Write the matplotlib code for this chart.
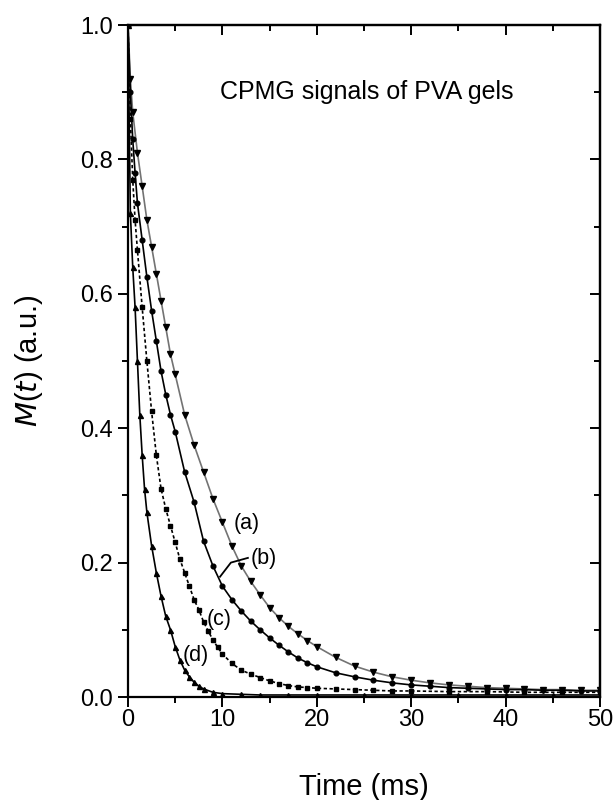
import matplotlib
matplotlib.use("Agg")
import matplotlib.pyplot as plt
from matplotlib.ticker import MultipleLocator

plt.rcParams['font.family'] = ['Liberation Sans', 'DejaVu Sans']

# ---- data ----
t_a = [0, 0.25, 0.5, 1, 1.5, 2, 2.5, 3, 3.5, 4, 4.5, 5, 6, 7, 8, 9, 10, 11, 12, 13, 14,
       15, 16, 17, 18, 19, 20, 22, 24, 26, 28, 30, 32, 34, 36, 38, 40, 42, 44, 46, 48, 50]
m_a = [1.0, 0.92, 0.87, 0.81, 0.76, 0.71, 0.67, 0.63, 0.59, 0.55, 0.51, 0.48, 0.42, 0.375,
       0.335, 0.295, 0.26, 0.225, 0.195, 0.172, 0.152, 0.133, 0.118, 0.105, 0.094, 0.084,
       0.075, 0.059, 0.046, 0.037, 0.030, 0.025, 0.021, 0.018, 0.016, 0.014, 0.013, 0.012,
       0.011, 0.011, 0.010, 0.010]

t_b = [0, 0.25, 0.5, 0.75, 1, 1.5, 2, 2.5, 3, 3.5, 4, 4.5, 5, 6, 7, 8, 9, 10, 11, 12, 13,
       14, 15, 16, 17, 18, 19, 20, 22, 24, 26, 28, 30, 32, 34, 36, 38, 40, 42, 44, 46, 48, 50]
m_b = [1.0, 0.90, 0.83, 0.78, 0.735, 0.68, 0.625, 0.575, 0.53, 0.485, 0.45, 0.42, 0.395,
       0.335, 0.29, 0.232, 0.195, 0.165, 0.145, 0.128, 0.113, 0.100, 0.088, 0.077, 0.067,
       0.058, 0.051, 0.045, 0.036, 0.030, 0.025, 0.021, 0.018, 0.016, 0.014, 0.013, 0.012,
       0.011, 0.011, 0.010, 0.010, 0.009, 0.009]

t_c = [0, 0.25, 0.5, 0.75, 1, 1.5, 2, 2.5, 3, 3.5, 4, 4.5, 5, 5.5, 6, 6.5, 7, 7.5, 8, 8.5,
       9, 9.5, 10, 11, 12, 13, 14, 15, 16, 17, 18, 19, 20, 22, 24, 26, 28, 30, 34, 38, 42,
       46, 50]
m_c = [1.0, 0.86, 0.77, 0.71, 0.665, 0.58, 0.50, 0.425, 0.36, 0.31, 0.28, 0.255, 0.23,
       0.205, 0.185, 0.165, 0.145, 0.13, 0.112, 0.098, 0.085, 0.074, 0.064, 0.050, 0.040,
       0.034, 0.029, 0.024, 0.020, 0.017, 0.015, 0.014, 0.013, 0.012, 0.011, 0.010, 0.009,
       0.009, 0.008, 0.008, 0.007, 0.007, 0.007]

t_d = [0, 0.25, 0.5, 0.75, 1, 1.25, 1.5, 1.75, 2, 2.5, 3, 3.5, 4, 4.5, 5, 5.5, 6, 6.5, 7,
       7.5, 8, 9, 10, 12, 14, 17, 20, 25, 30, 35, 40, 45, 50]
m_d = [1.0, 0.72, 0.64, 0.58, 0.50, 0.42, 0.36, 0.31, 0.275, 0.225, 0.185, 0.15, 0.12,
       0.10, 0.075, 0.055, 0.04, 0.03, 0.022, 0.016, 0.012, 0.007, 0.005, 0.004, 0.003,
       0.003, 0.003, 0.003, 0.003, 0.003, 0.003, 0.003, 0.003]

labels = ['(a)', '(b)', '(c)', '(d)']
label_pos = [(12.6, 0.258), (14.4, 0.206), (9.65, 0.115), (7.2, 0.062)]
leader_t = [12.7, 10.9, 9.75]
leader_m = [0.207, 0.200, 0.179]

title_text = 'CPMG signals of PVA gels'

# ---- figure ----
fig = plt.figure(figsize=(6.16, 8.0), dpi=100)
ax = fig.add_axes([128/616, 103/800, 472/616, 672/800])

ax.plot(t_a, m_a, color='0.45', lw=1.2, marker='v', ms=4.8, mfc='black', mec='black', zorder=3)
ax.plot(t_b, m_b, color='black', lw=1.2, marker='o', ms=3.4, mfc='black', mec='black', zorder=3)
ax.plot(t_c, m_c, color='black', lw=1.2, ls=(0, (2, 1.5)), marker='s', ms=3.0,
        mfc='black', mec='black', zorder=3)
ax.plot(t_d, m_d, color='black', lw=1.2, marker='^', ms=3.6, mfc='black', mec='black', zorder=3)

for lab, (x, y) in zip(labels, label_pos):
    ax.text(x, y, lab, fontsize=15.5, ha='center', va='center')
ax.plot(leader_t, leader_m, color='black', lw=1.3, zorder=4)

ax.text(25.3, 0.90, title_text, fontsize=18, ha='center', va='center')

ax.set_xlim(0, 50)
ax.set_ylim(0, 1.0)
ax.xaxis.set_minor_locator(MultipleLocator(5))
ax.yaxis.set_minor_locator(MultipleLocator(0.1))
ax.set_xticks([0, 10, 20, 30, 40, 50])
ax.set_xticklabels(['0', '10', '20', '30', '40', '50'])
ax.set_yticks([0.0, 0.2, 0.4, 0.6, 0.8, 1.0])
ax.set_yticklabels(['0.0', '0.2', '0.4', '0.6', '0.8', '1.0'])

ax.tick_params(which='both', direction='out', width=1.4, labelsize=17,
               top=False, right=False)
ax.tick_params(which='major', length=7, pad=4)
ax.tick_params(which='minor', length=4)
ax.tick_params(axis='x', which='major', pad=2)

# inward ticks on top and right
ax_top = ax.secondary_xaxis('top')
ax_top.set_xticks([0, 10, 20, 30, 40, 50])
ax_top.xaxis.set_minor_locator(MultipleLocator(5))
ax_top.tick_params(which='both', direction='in', width=1.4, labeltop=False)
ax_top.tick_params(which='major', length=7)
ax_top.tick_params(which='minor', length=4)
ax_right = ax.secondary_yaxis('right')
ax_right.set_yticks([0.0, 0.2, 0.4, 0.6, 0.8, 1.0])
ax_right.yaxis.set_minor_locator(MultipleLocator(0.1))
ax_right.tick_params(which='both', direction='in', width=1.4, labelright=False)
ax_right.tick_params(which='major', length=7)
ax_right.tick_params(which='minor', length=4)

for sp in ax.spines.values():
    sp.set_linewidth(1.6)
ax_top.spines['top'].set_linewidth(1.6)
ax_right.spines['right'].set_linewidth(1.6)

ax.set_xlabel('Time (ms)', fontsize=21, labelpad=30)
ax.set_ylabel(r'$\mathit{M}$($\mathit{t}$) (a.u.)', fontsize=21, labelpad=25)

fig.savefig('out.png', dpi=100)
